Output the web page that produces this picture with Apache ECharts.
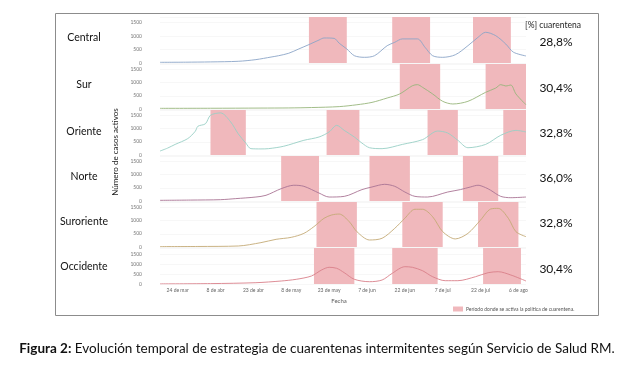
<!DOCTYPE html>
<html><head><meta charset="utf-8">
<script src="https://cdn.jsdelivr.net/npm/echarts@6/dist/echarts.min.js"></script>
<style>html,body{margin:0;padding:0;background:#fff}#c{width:627px;height:368px}</style>
</head><body><div id="c"></div>
<script>
// Days since 17 mar 2020 (index 0) to 9 ago (index 145)
const startDate = new Date(2020, 2, 17);
const nDays = 146;
const months = ['ene','feb','mar','abr','may','jun','jul','ago','sep','oct','nov','dic'];
const tickLabels = ['24 de mar','8 de abr','23 de abr','8 de may','23 de may','7 de jun','22 de jun','7 de jul','22 de jul','6 de ago'];

const regions = ['Central','Sur','Oriente','Norte','Suroriente','Occidente'];
const percents = ['28,8%','30,4%','32,8%','36,0%','32,8%','30,4%'];
const colors = ['#8ba5c7','#97b67c','#98cfc5','#a97494','#c4aa76','#d9808a'];

// [day index, active cases]
const central = [[0,25],[10,30],[20,40],[31,63],[38,125],[44,220],[47,270],[51,360],[55,520],[59,680],[63,850],[65,925],[69,910],[71,730],[74,520],[77,270],[81,210],[85,270],[90,640],[93,765],[96,890],[102,890],[105,580],[108,270],[112,210],[117,305],[122,640],[126,950],[129,1135],[133,1010],[137,700],[140,400],[145,260]];
const sur = [[0,25],[20,28],[40,35],[51,40],[60,55],[71,90],[78,160],[84,250],[90,415],[95,570],[100,880],[102,920],[104,820],[108,570],[112,290],[116,190],[122,290],[129,630],[133,790],[135,920],[137,870],[139,905],[141,570],[145,160]];
const oriente = [[0,150],[3,260],[6,400],[11,620],[14,900],[15,1085],[18,1180],[20,1500],[24,1590],[28,1250],[31,800],[34,450],[36,240],[40,230],[43,240],[49,330],[57,555],[63,680],[67,870],[70,1120],[73,930],[77,680],[80,450],[83,275],[88,240],[96,400],[104,580],[110,905],[114,830],[118,555],[122,275],[129,400],[135,745],[141,930],[145,870]];
const norte = [[0,25],[12,35],[24,50],[30,90],[38,150],[42,215],[48,465],[53,595],[57,555],[63,300],[67,150],[73,175],[80,430],[84,530],[89,630],[93,555],[97,340],[101,175],[106,150],[114,340],[119,430],[123,530],[126,595],[129,505],[131,405],[135,175],[139,125],[145,150]];
const suroriente = [[0,15],[15,20],[31,38],[40,165],[46,290],[52,365],[57,515],[61,770],[65,1085],[68,1210],[71,1245],[75,955],[78,580],[83,265],[88,330],[93,705],[97,1085],[101,1425],[104,1425],[108,1145],[112,580],[117,305],[122,515],[127,1020],[131,1435],[134,1460],[138,1085],[141,580],[145,390]];
const occidente = [[0,5],[20,20],[38,65],[48,150],[54,235],[60,400],[64,700],[67,835],[70,785],[73,565],[77,235],[83,115],[88,200],[92,535],[97,865],[100,835],[104,665],[108,365],[113,165],[118,165],[125,365],[130,565],[134,615],[139,450],[145,150]];
const seriesData = [central, sur, oriente, norte, suroriente, occidente];

// quarantine periods [start day, end day]
const quarantines = [
  [[59,74],[92,107],[124,139]],
  [[95,111],[129,145]],
  [[20,34],[66,79],[106,118],[136,145]],
  [[48,63],[83,99],[120,134]],
  [[62,78],[96,112],[126,142]],
  [[61,77],[92,110],[128,143]]
];

const categories = [];
for (let i = 0; i < nDays; i++) {
  const d = new Date(startDate.getTime() + i * 86400000);
  categories.push(d.getDate() + ' de ' + months[d.getMonth()]);
}

const layout = [
  {top:17, height:46, max:1700},
  {top:64, height:45, max:1700},
  {top:110, height:45, max:1700},
  {top:156, height:45, max:1700},
  {top:202, height:45, max:1700},
  {top:248, height:36, max:1800}
];
const labelY = [38, 85, 132, 177, 222, 267];
const pctY = [42, 88, 133, 178, 223, 269];
const FONT = 'Lato';

const grids = [], xAxes = [], yAxes = [], series = [], graphics = [];
layout.forEach((L, i) => {
  grids.push({left:160, width:366, top:L.top, height:L.height});
  const last = i === layout.length - 1;
  xAxes.push({
    type:'category', gridIndex:i, data:categories, boundaryGap:false,
    axisLine:{show:false}, axisTick:{show:false},
    axisLabel:{show:last, interval:(idx, val) => tickLabels.indexOf(val) >= 0,
      fontSize:5, color:'#666', fontFamily:FONT, margin:4}
  });
  yAxes.push({
    type:'value', gridIndex:i, min:0, max:L.max, interval:500,
    axisLine:{show:false}, axisTick:{show:false},
    splitLine:{show:true, lineStyle:{color:'#f2f2f2', width:0.6}},
    axisLabel:{fontSize:5, color:'#777', fontFamily:FONT, margin:18, showMaxLabel:false,
      formatter: v => String(v)}
  });
  series.push({
    type:'line', xAxisIndex:i, yAxisIndex:i, data:seriesData[i], z:1,
    symbol:'none', silent:true, lineStyle:{opacity:0},
    markArea:{silent:true, itemStyle:{color:'#f0b8bc'},
      data: quarantines[i].map(q => [{xAxis:q[0]}, {xAxis:q[1]}])}
  });
  series.push({
    type:'line', xAxisIndex:i, yAxisIndex:i, data:seriesData[i], z:3,
    symbol:'none', smooth:0.3, lineStyle:{color:colors[i], width:0.9}
  });
  graphics.push({type:'text', x:84, y:labelY[i],
    style:{text:regions[i], fontSize:10.5, fontFamily:FONT, fill:'#111', textAlign:'center', textVerticalAlign:'middle'}});
  graphics.push({type:'text', x:556, y:pctY[i],
    style:{text:percents[i], fontSize:12, fontFamily:FONT, fill:'#111', textAlign:'center', textVerticalAlign:'middle'}});
});

graphics.push({type:'rect', shape:{x:55.5, y:13.5, width:543, height:302},
  style:{fill:null, stroke:'#8c8c8c', lineWidth:1}, z:-1});
graphics.push({type:'text', x:553, y:25,
  style:{text:'[%] cuarentena', fontSize:8.5, fontFamily:FONT, fill:'#222', textAlign:'center', textVerticalAlign:'middle'}});
graphics.push({type:'text', x:115, y:152, rotation:Math.PI/2,
  style:{text:'Número de casos activos', fontSize:8, fontFamily:FONT, fill:'#222', textAlign:'center', textVerticalAlign:'middle'}});
graphics.push({type:'text', x:339, y:301,
  style:{text:'Fecha', fontSize:6, fontFamily:FONT, fill:'#595959', textAlign:'center', textVerticalAlign:'middle'}});
graphics.push({type:'rect', shape:{x:453, y:306.5, width:10, height:5}, style:{fill:'#f0b8bc'}});
graphics.push({type:'text', x:466, y:309,
  style:{text:'Período donde se activa la política de cuarentena.', fontSize:5, fontFamily:FONT, fill:'#555', textAlign:'left', textVerticalAlign:'middle'}});
graphics.push({type:'text', x:317, y:349,
  style:{text:'{b|Figura 2:} Evolución temporal de estrategia de cuarentenas intermitentes según Servicio de Salud RM.',
    rich:{b:{fontWeight:'bold', fontSize:13.5, fontFamily:FONT, fill:'#111'}},
    fontSize:13.5, fontFamily:FONT, fill:'#111', textAlign:'center', textVerticalAlign:'middle'}});

const chart = echarts.init(document.getElementById('c'), null, {renderer:'canvas'});
chart.setOption({
  animation:false,
  textStyle:{fontFamily:FONT},
  grid:grids, xAxis:xAxes, yAxis:yAxes, series:series, graphic:graphics
});
</script></body></html>
